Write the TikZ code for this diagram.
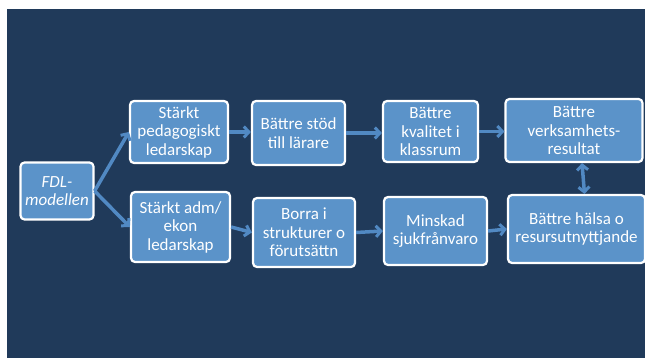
\documentclass[tikz,border=0pt]{standalone}
\usepackage{fontspec}
\setmainfont{Carlito}
\usetikzlibrary{arrows.meta}
\definecolor{navy}{HTML}{203A5A}
\definecolor{boxblue}{HTML}{5B93C9}
\definecolor{arrblue}{HTML}{5189C3}
\tikzset{
  box/.style={draw=white, line width=2.2pt, fill=boxblue, rounded corners=4pt,
    text=white, align=center, inner sep=0pt,
    font=\fontsize{17}{18.5}\selectfont},
  conn/.style={draw=arrblue, line width=3.5pt,
    -{Straight Barb[length=5pt,width=11pt,line width=3pt]}},
  dconn/.style={draw=arrblue, line width=3.5pt,
    {Straight Barb[length=5pt,width=11pt,line width=3pt]}-{Straight Barb[length=5pt,width=11pt,line width=3pt]}}
}
\begin{document}
\begin{tikzpicture}[x=1pt,y=-1pt]
\useasboundingbox (0,0) rectangle (652,358);
\fill[white] (0,0) rectangle (652,358);
\fill[navy] (7,9) rectangle (645,358);
\node[box, minimum width=73pt, minimum height=57pt] (fdl) at (57,191) {\itshape FDL-\\\itshape modellen};
\node[box, minimum width=98pt, minimum height=62pt] (ped) at (179,132) {Stärkt\\pedagogiskt\\ledarskap};
\node[box, minimum width=99pt, minimum height=70pt] (adm) at (180.5,227) {Stärkt adm/\\ekon\\ledarskap};
\node[box, minimum width=93pt, minimum height=64pt] (stod) at (298.5,133) {Bättre stöd\\till lärare};
\node[box, minimum width=102pt, minimum height=69pt] (borra) at (304,232.5) {Borra i\\strukturer o\\förutsättn};
\node[box, minimum width=95pt, minimum height=61pt] (kval) at (430.5,131.5) {Bättre\\kvalitet i\\klassrum};
\node[box, minimum width=137pt, minimum height=63pt] (verk) at (574,130.5) {Bättre\\verksamhets-\\resultat};
\node[box, minimum width=103pt, minimum height=68pt] (minsk) at (435.5,231) {Minskad\\sjukfrånvaro};
\node[box, minimum width=137pt, minimum height=68pt] (halsa) at (576.5,229) {Bättre hälsa o\\resursutnyttjande};
\draw[conn] (fdl.east) -- (ped.west);
\draw[conn] (fdl.east) -- (adm.west);
\draw[conn] (ped.east) -- (stod.west |- ped.east);
\draw[conn] (stod.east) -- (kval.west |- stod.east);
\draw[conn] (kval.east) -- (verk.west |- kval.east);
\draw[conn] (adm.east) -- (borra.west);
\draw[conn] (borra.east) -- (minsk.west);
\draw[conn] (minsk.east) -- (halsa.west);
\draw[dconn] ([xshift=8pt]verk.south) -- ([xshift=8pt]halsa.north);
\end{tikzpicture}
\end{document}
